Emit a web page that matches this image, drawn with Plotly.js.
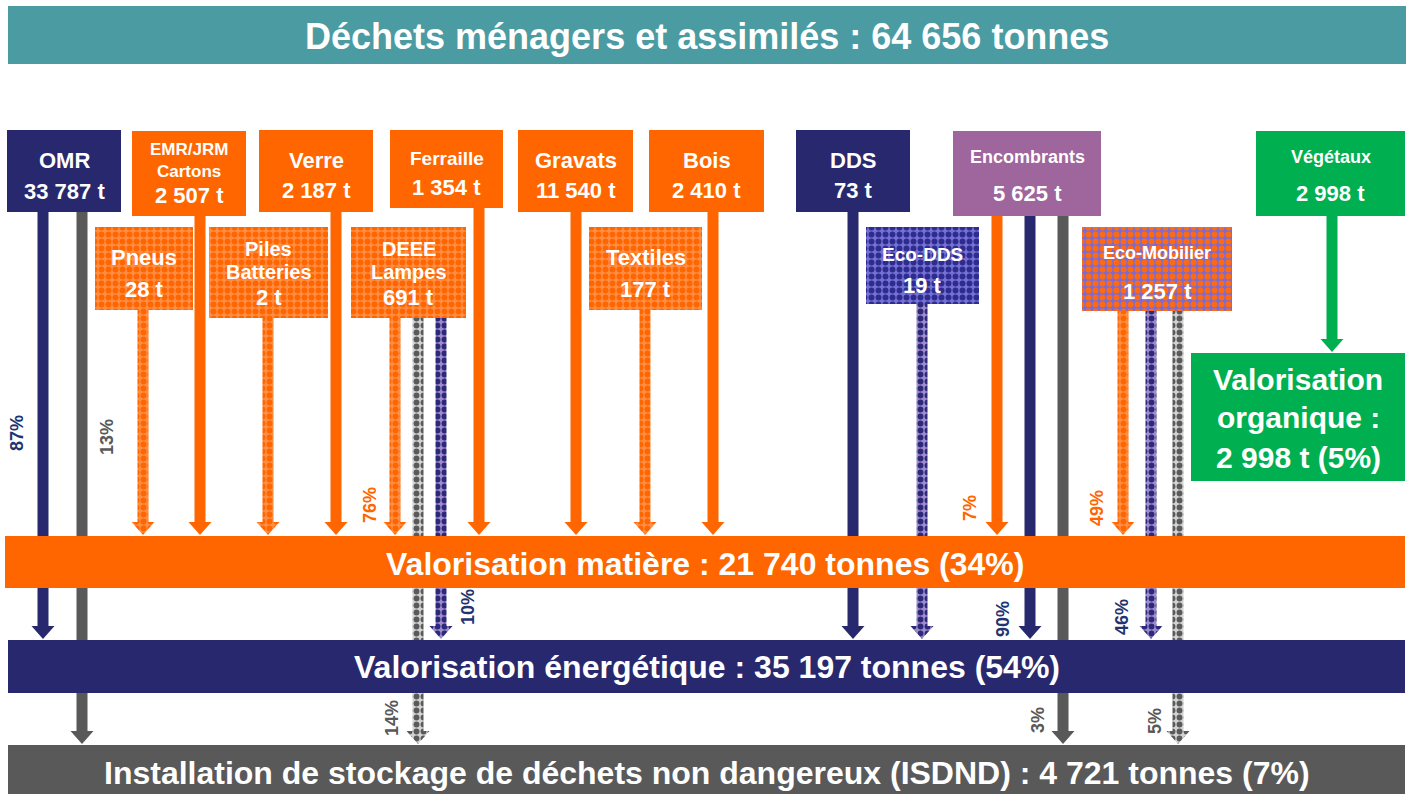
<!DOCTYPE html>
<html><head><meta charset="utf-8">
<script src="https://cdn.plot.ly/plotly-3.0.1.min.js"></script>
<style>html,body{margin:0;padding:0;background:#fff}#chart{width:1413px;height:794px}</style>
</head><body><div id="chart"></div>
<script>
// ---------------- DATA ----------------
const titleLabel = "Déchets ménagers et assimilés";
const totalTonnes = 64656;

const sourceNames = ["OMR","EMR/JRM\nCartons","Verre","Ferraille","Gravats","Bois","DDS","Encombrants","Végétaux",
                     "Pneus","Piles\nBatteries","DEEE\nLampes","Textiles","Eco-DDS","Eco-Mobilier"];
const sourceTonnes = [33787,2507,2187,1354,11540,2410,73,5625,2998,28,2,691,177,19,1257];

const outcomeNames = ["Valorisation matière","Valorisation énergétique","Installation de stockage de déchets non dangereux (ISDND)","Valorisation organique"];
const outcomeTonnes = [21740,35197,4721,2998];
const outcomePct = [34,54,7,5];

// flows: source index -> outcome index, labelled percentage (null = no label)
const flowFrom = [0,0,9,1,10,2,11,11,11,3,4,12,5,6,13,7,7,7,14,14,14,8];
const flowTo   = [1,2,0,0,0,0,0,2,1,0,0,0,0,1,1,0,1,2,0,1,2,3];
const flowPct  = [87,13,null,null,null,null,76,14,10,null,null,null,null,null,null,7,90,3,49,46,5,null];

// ---------------- LAYOUT / STYLE ----------------
const NAVY="#28286F", ORANGE="#FF6600", GRAY="#595959", GREEN="#00B050", PURPLE="#9E669C", TEAL="#4A9BA2";
const FONT="Liberation Sans, Arial, sans-serif";
const boxGeom = [
  {b:[7,121,130,212],  st:"navy",  ys:[160,191], fs:[22,22]},
  {b:[132,246,131,216],st:"orange",ys:[149,171,195], fs:[17,17,22]},
  {b:[259,373,130,212],st:"orange",ys:[160,190], fs:[22,22]},
  {b:[390,503,130,208],st:"orange",ys:[158,187], fs:[19,22]},
  {b:[518,633,130,212],st:"orange",ys:[160,190], fs:[22,22]},
  {b:[649,764,130,212],st:"orange",ys:[160,190], fs:[22,22]},
  {b:[796,910,130,212],st:"navy",  ys:[160,190], fs:[22,22]},
  {b:[953,1101,131,216],st:"purple",ys:[157,193], fs:[18,22]},
  {b:[1256,1405,131,216],st:"green",ys:[157,193], fs:[18,22]},
  {b:[95,193,227,310], st:"hOrange",ys:[257,289], fs:[22,22]},
  {b:[209,328,227,318],st:"hOrange",ys:[249,272,297], fs:[20,20,22]},
  {b:[351,466,227,318],st:"hOrange",ys:[249,272,297], fs:[20,20,22]},
  {b:[589,702,227,310],st:"hOrange",ys:[257,289], fs:[22,22]},
  {b:[866,979,227,304],st:"hNavy", ys:[254,285], fs:[19,22]},
  {b:[1082,1232,227,311],st:"hMix", ys:[253,291], fs:[18,22]}
];
const hatchedSource = [false,false,false,false,false,false,false,false,false,true,true,true,true,true,true];
const outcomeGeom = [
  {b:[5,1405,536,588], color:ORANGE, y:564},
  {b:[8,1405,640,693], color:NAVY, y:667},
  {b:[8,1405,745,794], color:GRAY, y:773},
  {b:[1191,1405,353,481], color:GREEN, ys:[379,417,457]}
];
const arrowX = [43,82,143,200,268,336,395,418,441,479,576,645,713,853,922,997,1030,1063,1123,1151,1178,1332];
const pctPos = {0:[17,433],1:[107,437],6:[370,505],7:[392,718],8:[468,607],15:[970,508],16:[1003,619],17:[1038,720],18:[1097,508],19:[1122,617],20:[1155,721]};
const pctColor = [ORANGE,"#1F3470",GRAY,GREEN];

function fmt(n){return String(n).replace(/\B(?=(\d{3})+(?!\d))/g," ");}

function fillStyle(st){
  const P=(bg,fg)=>({fillcolor:bg,fillpattern:{shape:".",bgcolor:bg,fgcolor:fg,size:7,solidity:0.55,fillmode:"replace"}});
  switch(st){
    case "navy": return {fillcolor:NAVY};
    case "orange": return {fillcolor:ORANGE};
    case "gray": return {fillcolor:GRAY};
    case "green": return {fillcolor:GREEN};
    case "purple": return {fillcolor:PURPLE};
    case "teal": return {fillcolor:TEAL};
    case "hOrange": return P("#FF8E45",ORANGE);
    case "hNavy": return P("#7470D6","#2E2C8C");
    case "hMix": return P("#7A6BD6","#FF6A10");
    case "hGray": return P("#D2D2D2","#5A5A5A");
    case "hArrowNavy": return P("#A08ACB","#2B2A7A");
  }
}
function poly(xs,ys,st){
  return Object.assign({type:"scatter",mode:"lines",x:xs,y:ys,fill:"toself",line:{width:0,color:"rgba(0,0,0,0)"},hoverinfo:"skip",showlegend:false},fillStyle(st));
}
function rect(b,st){return poly([b[0],b[1],b[1],b[0],b[0]],[b[2],b[2],b[3],b[3],b[2]],st);}

const traces=[]; const ann=[];
function txt(x,y,t,size,color,extra){ann.push(Object.assign({x:x,y:y,xref:"x",yref:"y",text:"<b>"+t+"</b>",showarrow:false,font:{family:FONT,size:size,color:color||"#fff"},xanchor:"center",yanchor:"middle"},extra||{}));}

// title bar
traces.push(rect([8,1406,6,64],"teal"));
txt(707,36,titleLabel+" : "+fmt(totalTonnes)+" tonnes",36);

// arrows (drawn before bars)
const SH=11, HW=23, HH=13;
flowFrom.forEach((s,i)=>{
  const t=flowTo[i], x=arrowX[i];
  const y0=boxGeom[s].b[3], y1=outcomeGeom[t].b[2]-1;
  let st;
  if(hatchedSource[s]) st = t===0?"hOrange":(t===1?"hArrowNavy":"hGray");
  else st = ["orange","navy","gray","green"][t];
  const xs=[x-SH/2,x+SH/2,x+SH/2,x+HW/2,x,x-HW/2,x-SH/2,x-SH/2];
  const ys=[y0,y0,y1-HH,y1-HH,y1,y1-HH,y1-HH,y0];
  traces.push(poly(xs,ys,st));
  if(flowPct[i]!==null){
    const p=pctPos[i];
    txt(p[0],p[1],flowPct[i]+"%",18,pctColor[t],{textangle:-90});
  }
});

// source boxes
sourceNames.forEach((n,i)=>{
  const g=boxGeom[i];
  traces.push(rect(g.b,g.st));
  const lines=n.split("\n").concat([fmt(sourceTonnes[i])+" t"]);
  const cx=(g.b[0]+g.b[1])/2;
  lines.forEach((l,k)=>txt(cx,g.ys[k],l,g.fs[k]));
});

// outcome bars
outcomeGeom.forEach((g,i)=>{
  const tr=rect(g.b,"navy"); tr.fillcolor=g.color; traces.push(tr);
  const cx=(g.b[0]+g.b[1])/2;
  if(i<3){
    txt(cx,g.y,outcomeNames[i]+" : "+fmt(outcomeTonnes[i])+" tonnes ("+outcomePct[i]+"%)",32);
  } else {
    const w=outcomeNames[i].split(" ");
    txt(cx,g.ys[0],w[0],30); txt(cx,g.ys[1],w[1]+" :",30);
    txt(cx,g.ys[2],fmt(outcomeTonnes[i])+" t ("+outcomePct[i]+"%)",30);
  }
});

const layout={width:1413,height:794,margin:{l:0,r:0,t:0,b:0},paper_bgcolor:"#fff",plot_bgcolor:"#fff",
  xaxis:{range:[0,1413],visible:false,fixedrange:true},
  yaxis:{range:[794,0],visible:false,fixedrange:true},
  annotations:ann,hovermode:false,showlegend:false};
Plotly.newPlot("chart",traces,layout,{displayModeBar:false,staticPlot:true});
</script></body></html>
